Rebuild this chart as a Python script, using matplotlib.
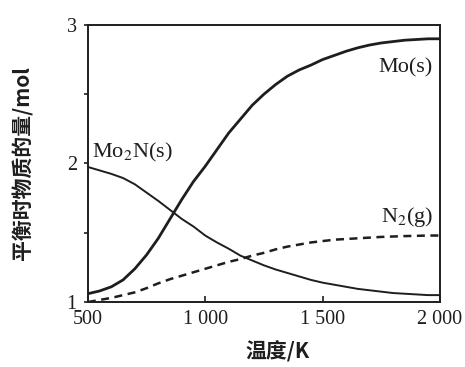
import matplotlib
matplotlib.use("Agg")
import matplotlib.pyplot as plt

# temperature / K
temps = [500, 550, 600, 650, 700, 750, 800, 850, 900, 950, 1000, 1050,
         1100, 1150, 1200, 1250, 1300, 1350, 1400, 1450, 1500, 1550,
         1600, 1650, 1700, 1750, 1800, 1850, 1900, 1950, 2000]
# equilibrium amounts / mol
mo = [1.06, 1.08, 1.11, 1.16, 1.24, 1.34, 1.46, 1.60, 1.74, 1.87, 1.98,
      2.10, 2.22, 2.32, 2.42, 2.50, 2.57, 2.63, 2.675, 2.71, 2.75, 2.78,
      2.81, 2.835, 2.855, 2.87, 2.88, 2.89, 2.895, 2.90, 2.90]
mo2n = [1.975, 1.95, 1.925, 1.895, 1.85, 1.79, 1.73, 1.665, 1.60, 1.545,
        1.48, 1.43, 1.385, 1.335, 1.30, 1.265, 1.235, 1.21, 1.185, 1.16,
        1.14, 1.125, 1.11, 1.095, 1.085, 1.075, 1.065, 1.06, 1.055, 1.05,
        1.05]
n2 = [1.0, 1.015, 1.03, 1.05, 1.07, 1.10, 1.135, 1.165, 1.19, 1.215, 1.24,
      1.265, 1.29, 1.31, 1.335, 1.355, 1.38, 1.40, 1.415, 1.43, 1.44, 1.45,
      1.455, 1.46, 1.465, 1.47, 1.473, 1.476, 1.478, 1.48, 1.48]

xticks = [500, 1000, 1500, 2000]
xticklabels = ["500", "1 000", "1 500", "2 000"]
yticks = [1, 1.5, 2, 2.5, 3]
yticklabels = ["1", "", "2", "", "3"]

plt.rcParams["mathtext.fontset"] = "stix"
serif = "Liberation Serif"
cjk = ["Noto Sans CJK SC", "DejaVu Sans"]
ink = "#1e1e1e"

fig = plt.figure(figsize=(4.65, 3.67), dpi=100)
ax = fig.add_axes([0.189, 0.177, 0.757, 0.755])

ax.plot(temps, mo, color=ink, lw=2.0)
ax.plot(temps, mo2n, color=ink, lw=1.4)
ax.plot(temps, n2, color=ink, lw=1.8, ls=(0, (3.2, 2.2)))

ax.set_xlim(500, 2000)
ax.set_ylim(1, 3)
ax.set_xticks(xticks)
ax.set_xticklabels(xticklabels, fontfamily=serif, fontsize=14.5)
ax.set_yticks(yticks)
ax.set_yticklabels(yticklabels, fontfamily=serif, fontsize=14.5)
ax.tick_params(axis="x", direction="in", length=4, width=1.2, pad=6, colors=ink)
ax.tick_params(axis="y", direction="out", length=3, width=1.2, pad=5, colors=ink)
for s in ax.spines.values():
    s.set_linewidth(1.4)
    s.set_color(ink)

ax.text(1970, 2.69, "Mo(s)", ha="right", va="center", fontfamily=serif,
        fontsize=16, color=ink)
ax.text(517, 2.076, r"Mo$_2$N(s)", ha="left", va="center", fontfamily=serif,
        fontsize=16, color=ink)
ax.text(1970, 1.614, r"N$_2$(g)", ha="right", va="center", fontfamily=serif,
        fontsize=16, color=ink)

ax.set_xlabel("温度/K", family=cjk, fontweight="bold", fontsize=15, color=ink)
ax.xaxis.set_label_coords(0.54, -0.14)
ax.set_ylabel("平衡时物质的量/mol", family=cjk, fontweight="bold", fontsize=15,
              color=ink)
ax.yaxis.set_label_coords(-0.155, 0.5)

fig.savefig("out.png", dpi=100)
